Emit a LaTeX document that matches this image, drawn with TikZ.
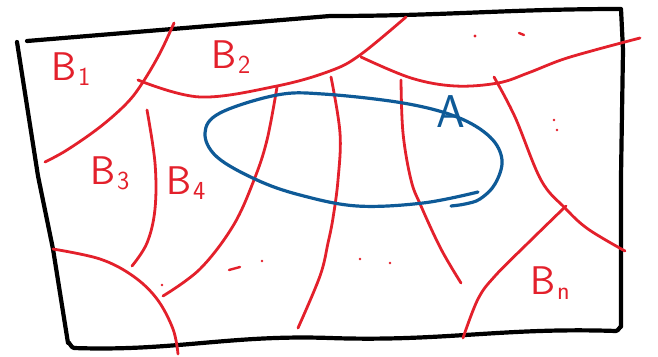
\documentclass[tikz,border=0pt]{standalone}
\definecolor{sred}{HTML}{E3202B}
\definecolor{sblue}{HTML}{0E5A97}
\newcommand{\subidx}[1]{\kern2pt\raisebox{-5pt}{\fontsize{26}{26}\selectfont #1}}
\begin{document}
\begin{tikzpicture}[x=1pt,y=-1pt,
  frame/.style={line width=4.2pt,black,line join=round,line cap=round},
  part/.style={line width=2.8pt,sred,line cap=round,line join=round},
  setA/.style={line width=3.2pt,sblue,line cap=round,line join=round},
  lbl/.style={sred,font=\sffamily\fontsize{40}{40}\selectfont,anchor=base west,inner sep=0pt},
  dot/.style={sred,fill}]
\useasboundingbox (0,0) rectangle (658,356);
% frame
\draw[frame] (17,42) -- (38,176) -- (53,249) -- (68,343) to[out=80,in=180] (74,348)
  to[out=-2,in=178] (330,338) to[out=-2,in=178] (616,331) to[out=0,in=90] (621,327)
  -- (621,176) -- (623,50) -- (621,9) to[out=180,in=0] (330,16) -- (27,41);
% partition curves
\draw[part] plot[smooth,tension=0.6] coordinates {(174,23) (160,53) (143,82) (127,103) (100,127) (67,150) (45,162)};
\draw[part] plot[smooth,tension=0.6] coordinates {(138,80) (200,97) (277,86) (330,71) (360,55) (406,17)};
\draw[part] plot[smooth,tension=0.6] coordinates {(361,57) (411,78) (455,86) (498,83) (528,73) (561,60) (595,50) (640,38)};
\draw[part] plot[smooth,tension=0.6] coordinates {(147,110) (155,163) (155,209) (147,243) (132,266)};
\draw[part] plot[smooth,tension=0.6] coordinates {(277,87) (267,140) (254,180) (233,226) (200,269) (163,296)};
\draw[part] plot[smooth,tension=0.6] coordinates {(331,77) (340,133) (338,180) (333,218) (328,243) (320,276) (298,328)};
\draw[part] plot[smooth,tension=0.6] coordinates {(401,80) (403,133) (411,180) (421,206) (441,249) (461,283)};
\draw[part] plot[smooth,tension=0.6] coordinates {(494,77) (515,117) (541,180) (565,208) (588,229) (625,251)};
\draw[part] plot[smooth,tension=0.6] coordinates {(566,206) (528,243) (495,276) (478,299) (463,338)};
\draw[part] plot[smooth,tension=0.6] coordinates {(53,249) (100,259) (133,276) (157,299) (173,329) (178,354)};
% dots
\fill[dot] (475,36) circle (1.6);
\draw[part,line width=2.4pt] (519,33) -- (524,35);
\fill[dot] (554,120) circle (1.4);
\fill[dot] (557,130) circle (1.4);
\fill[dot] (162,285) circle (1.3);
\draw[part,line width=2.4pt] (229,270) -- (240,267);
\fill[dot] (262,261) circle (1.4);
\fill[dot] (360,259) circle (1.4);
\fill[dot] (390,263) circle (1.4);
% set A
\draw[setA] plot[smooth,tension=0.6] coordinates {(478,192) (423,203) (357,206) (300,195) (257,180) (217,157) (205,133) (220,113) (277,95) (323,94) (403,103) (457,117) (490,137) (502,160) (495,184) (480,199) (465,204) (451,206)};
% labels
\node[lbl] (b1) at (51,80) {B\subidx{1}};
\node[lbl] (b2) at (211,68) {B\subidx{2}};
\node[lbl] (b3) at (90,184) {B\subidx{3}};
\node[lbl] (b4) at (166,194) {B\subidx{4}};
\node[lbl] (bn) at (530,294) {B\subidx{n}};
\node[lbl,sblue,font=\sffamily\fontsize{46}{46}\selectfont] (a) at (436,127) {A};
\end{tikzpicture}
\end{document}
